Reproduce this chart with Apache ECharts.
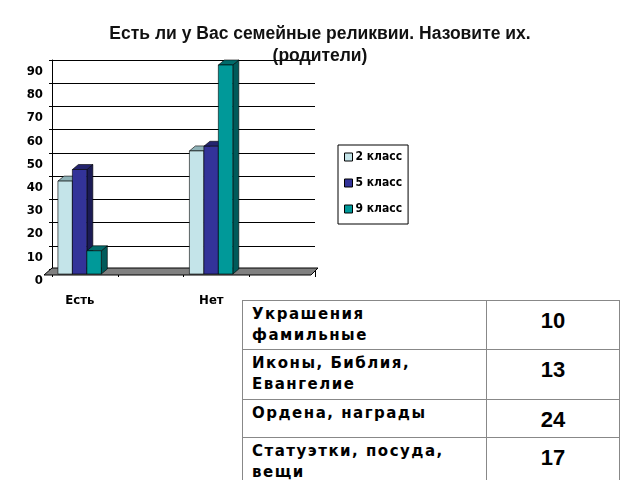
<!DOCTYPE html>
<html>
<head>
<meta charset="utf-8">
<script src="https://cdn.jsdelivr.net/npm/echarts@6/dist/echarts.min.js"></script>
<style>
  html, body { margin: 0; padding: 0; background: #fff; }
  #wrap { position: relative; width: 640px; height: 480px; overflow: hidden; }
  #chart { position: absolute; left: 0; top: 0; width: 640px; height: 480px; }
  #tbl { position: absolute; left: 242px; top: 300px; border-collapse: collapse; background: #fff; }
  #tbl td { border: 1px solid #888; vertical-align: top; padding: 0; }
  #tbl td.name { width: 234px; padding: 3px 0 0 9px; font: bold 15px "DejaVu Sans"; letter-spacing: 1.5px; line-height: 21px; color: #000; }
  #tbl td.num { width: 132px; text-align: center; font: bold 22px "Liberation Sans", Arial; padding-top: 7px; color: #000; }
</style>
</head>
<body>
<div id="wrap">
  <div id="chart"></div>
  <table id="tbl"></table>
</div>
<script>
// данные
var categories = ['Есть', '', 'Нет', ''];
var seriesNames = ['2 класс', '5 класс', '9 класс'];
var class2 = [40, null, 53, null];
var class5 = [45, null, 55, null];
var class9 = [10, null, 90, null];
var yTicks = [0, 10, 20, 30, 40, 50, 60, 70, 80, 90];

var tableNames = ['Украшения\nфамильные', 'Иконы, Библия,\nЕвангелие', 'Ордена, награды', 'Статуэтки, посуда,\nвещи'];
var tableValues = [10, 13, 24, 17];
var rowHeights = [49, 50, 38, 60];

// таблица
var tbl = document.getElementById('tbl');
for (var i = 0; i < tableNames.length; i++) {
    var tr = document.createElement('tr');
    tr.style.height = rowHeights[i] + 'px';
    var td1 = document.createElement('td');
    td1.className = 'name';
    td1.innerHTML = tableNames[i].replace('\n', '<br>');
    var td2 = document.createElement('td');
    td2.className = 'num';
    td2.textContent = tableValues[i];
    tr.appendChild(td1);
    tr.appendChild(td2);
    tbl.appendChild(tr);
}

var colors = [
    { front: '#C4E4E9', top: '#8FB3B8', side: '#7FA2A7' },
    { front: '#333399', top: '#24246E', side: '#1B1B55' },
    { front: '#009999', top: '#006B6B', side: '#005A5A' }
];
var DX = 6, DY = 5;

function bar3d(k) {
    return function (params, api) {
        var ci = api.value(0), v = api.value(1);
        if (v == null || isNaN(v)) return;
        var band = api.size([1, 0])[0];
        var base = api.coord([ci, 0]);
        var top = api.coord([ci, v]);
        var w = band * 0.22;
        var x0 = base[0] - band / 2 + band * 0.09 + k * w;
        var x1 = x0 + w;
        var yb = base[1] + DY, yt = top[1] + DY;
        var c = colors[k];
        return {
            type: 'group',
            children: [
                { type: 'polygon', shape: { points: [[x1, yb], [x1 + DX, yb - DY], [x1 + DX, yt - DY], [x1, yt]] },
                  style: { fill: c.side, stroke: '#000', lineWidth: 0.6 } },
                { type: 'polygon', shape: { points: [[x0, yt], [x0 + DX, yt - DY], [x1 + DX, yt - DY], [x1, yt]] },
                  style: { fill: c.top, stroke: '#000', lineWidth: 0.6 } },
                { type: 'rect', shape: { x: x0, y: yt, width: w, height: yb - yt },
                  style: { fill: c.front, stroke: '#000', lineWidth: 0.6 } }
            ]
        };
    };
}

function floor(params, api) {
    var left = api.coord([0, 0]);
    var band = api.size([1, 0])[0];
    var xl = left[0] - band / 2, xr = xl + band * categories.length;
    var y = left[1];
    return {
        type: 'polygon',
        shape: { points: [[xl - 8, y + 6], [xl, y - 1], [xr + 3, y - 1], [xr - 4, y + 6]] },
        style: { fill: '#808080', stroke: '#000', lineWidth: 1 }
    };
}

function pairs(arr) {
    return arr.map(function (v, i) { return [i, v]; });
}

var chart = echarts.init(document.getElementById('chart'));
var narrow = '"Liberation Sans Narrow", "DejaVu Sans Condensed", "Liberation Sans", Arial';
var option = {
    animation: false,
    title: {
        text: 'Есть ли у Вас семейные реликвии. Назовите их.\n(родители)',
        left: 'center',
        top: 18,
        textStyle: { fontFamily: 'Liberation Sans, Arial', fontWeight: 'bold', fontSize: 17.5, lineHeight: 22, color: '#111' }
    },
    legend: {
        data: seriesNames,
        orient: 'vertical',
        left: 338,
        top: 145,
        padding: [6, 6, 9, 6],
        itemGap: 14,
        itemWidth: 8,
        itemHeight: 8,
        icon: 'rect',
        borderColor: '#000',
        borderWidth: 1,
        itemStyle: { borderColor: '#000', borderWidth: 1 },
        textStyle: { fontFamily: narrow, fontWeight: 'bold', fontSize: 12, color: '#000', padding: [0, 0, 0, -2] }
    },
    grid: { left: 52, right: 325, top: 60, bottom: 211 },
    xAxis: {
        type: 'category',
        data: categories,
        axisLine: { show: false },
        axisTick: { show: true, length: 8, lineStyle: { color: '#000' } },
        axisLabel: { fontFamily: narrow, fontWeight: 'bold', fontSize: 13, color: '#000', margin: 25, padding: [0, 10, 0, 0] }
    },
    yAxis: {
        type: 'value',
        min: yTicks[0],
        max: yTicks[yTicks.length - 1],
        interval: 10,
        axisLine: { show: true, lineStyle: { color: '#000' } },
        axisTick: { show: true, length: 3, lineStyle: { color: '#000' } },
        splitLine: { show: true, lineStyle: { color: '#000', width: 1 } },
        axisLabel: { fontFamily: narrow, fontWeight: 'bold', fontSize: 13, color: '#000', margin: 9, verticalAlign: 'top', padding: [5, 0, 0, 0] }
    },
    series: [
        { type: 'custom', name: 'floor', renderItem: floor, data: [[0, 0]], silent: true, z: 1 },
        { type: 'custom', name: seriesNames[0], renderItem: bar3d(0), data: pairs(class2), itemStyle: { color: colors[0].front }, z: 2 },
        { type: 'custom', name: seriesNames[1], renderItem: bar3d(1), data: pairs(class5), itemStyle: { color: colors[1].front }, z: 2 },
        { type: 'custom', name: seriesNames[2], renderItem: bar3d(2), data: pairs(class9), itemStyle: { color: colors[2].front }, z: 2 }
    ]
};
chart.setOption(option);
</script>
</body>
</html>
